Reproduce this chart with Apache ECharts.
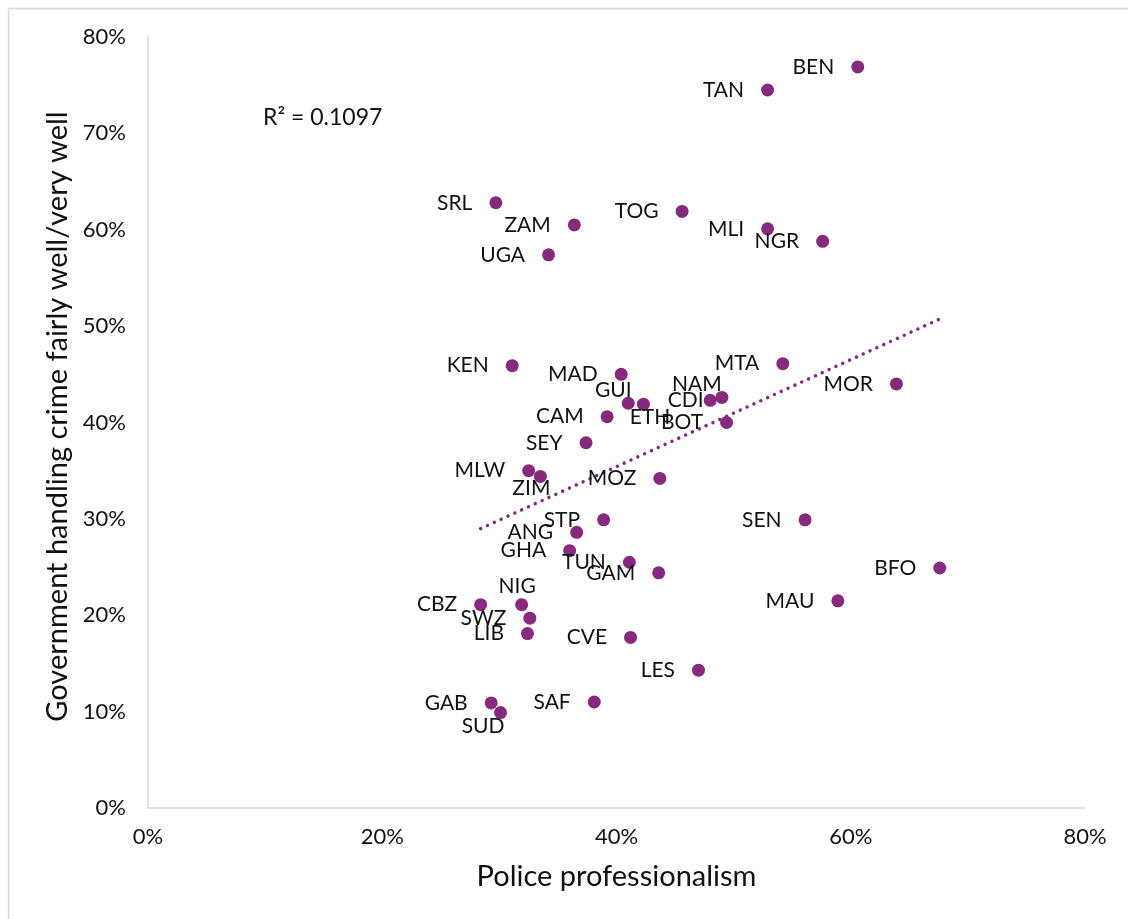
<!DOCTYPE html>
<html>
<head>
<meta charset="utf-8">
<script src="https://cdn.jsdelivr.net/npm/echarts@6/dist/echarts.min.js"></script>
<style>html,body{margin:0;padding:0;background:#fff}#c{width:1128px;height:919px}</style>
</head>
<body>
<div id="c"></div>
<script>
// Country codes
const countries = ['BEN','TAN','SRL','ZAM','TOG','MLI','NGR','UGA','KEN','MAD','MTA','MOR','GUI','ETH','NAM','CDI','BOT','CAM','SEY','MLW','ZIM','MOZ','STP','SEN','ANG','GHA','TUN','GAM','BFO','NIG','CBZ','SWZ','MAU','LIB','CVE','LES','SAF','GAB','SUD'];
// Police professionalism (%)
const policeProf = [60.6,52.9,29.7,36.4,45.6,52.9,57.6,34.2,31.1,40.4,54.2,63.9,41.0,42.3,49.0,48.0,49.4,39.2,37.4,32.5,33.5,43.7,38.9,56.1,36.6,36.0,41.1,43.6,67.6,31.9,28.4,32.6,58.9,32.4,41.2,47.0,38.1,29.3,30.1];
// Government handling crime fairly well/very well (%)
const govCrime = [76.9,74.5,62.8,60.5,61.9,60.1,58.8,57.4,45.9,45.0,46.1,44.0,42.0,41.9,42.6,42.3,40.0,40.6,37.9,35.0,34.4,34.2,29.9,29.9,28.6,26.7,25.5,24.4,24.9,21.1,21.1,19.7,21.5,18.1,17.7,14.3,11.0,10.9,9.9];
const xTicks = [0,20,40,60,80];
const yTicks = [0,10,20,30,40,50,60,70,80];
const r2Text = 'R² = 0.1097';

// label placement overrides: label-centre shift from the marker centre (px)
const SYM = 13;
const labelShift = {
  GUI:[-15,-13],
  NAM:[-25,-13],
  ETH:[6.5,13],
  ZIM:[-9,12],
  NIG:[-4.5,-18],
  SUD:[-17.5,13.5]
};

// linear least-squares trendline from the data
const n = policeProf.length;
const mx = policeProf.reduce((a,b)=>a+b,0)/n;
const my = govCrime.reduce((a,b)=>a+b,0)/n;
let sxy=0,sxx=0;
for(let i=0;i<n;i++){sxy+=(policeProf[i]-mx)*(govCrime[i]-my);sxx+=(policeProf[i]-mx)**2;}
const slope=sxy/sxx, icpt=my-slope*mx;
const xMin=Math.min(...policeProf), xMax=Math.max(...policeProf);
const trend=[[xMin,icpt+slope*xMin],[xMax,icpt+slope*xMax]];

const purple='#862a7d';
const FONT='Lato';
const TXT='#111';
const data = countries.map((c,i)=>{
  const o={value:[policeProf[i],govCrime[i],c]};
  const s=labelShift[c];
  if(s) o.label={position:[SYM/2+s[0],SYM/2+s[1]],align:'center',verticalAlign:'middle'};
  if(c==='CDI') o.label={position:'left',distance:0};
  return o;
});

const chart = echarts.init(document.getElementById('c'));
chart.setOption({
  animation:false,
  textStyle:{fontFamily:FONT},
  grid:{left:148,right:43,top:37,bottom:111},
  xAxis:{type:'value',min:0,max:80,interval:20,
    name:'Police professionalism',nameLocation:'middle',nameGap:54,
    nameTextStyle:{fontSize:29,color:TXT,fontFamily:FONT},
    axisLine:{show:true,lineStyle:{color:'#d9d9d9',width:1.5}},
    axisTick:{show:false},splitLine:{show:false},
    axisLabel:{fontSize:22,color:TXT,margin:18,formatter:v=>v+'%'}},
  yAxis:{type:'value',min:0,max:80,interval:10,
    name:'Government handling crime fairly well/very well',nameLocation:'middle',nameGap:76,
    nameTextStyle:{fontSize:29,color:TXT,fontFamily:FONT,padding:[0,0,0,12]},
    axisLine:{show:true,lineStyle:{color:'#d9d9d9',width:1.5}},
    axisTick:{show:false},splitLine:{show:false},
    axisLabel:{fontSize:22,color:TXT,margin:22,formatter:v=>v+'%'}},
  graphic:[
    {type:'rect',left:6,top:6,shape:{width:1200,height:1000},style:{fill:'none',stroke:'#d9d9d9',lineWidth:1.5},silent:true,z:-10},
    {type:'text',left:263,top:106,style:{text:r2Text,fontSize:23,fill:TXT,fontFamily:FONT}}
  ],
  series:[
    {type:'line',data:trend,symbol:'none',silent:true,
      lineStyle:{color:purple,width:3.5,type:[0.01,7.5],cap:'round'},z:1},
    {type:'scatter',data:data,symbol:'circle',symbolSize:SYM,
      itemStyle:{color:purple,opacity:1},
      label:{show:true,position:'left',distance:17,formatter:p=>p.value[2],
        fontSize:21,color:TXT,fontFamily:FONT},
      labelLayout:{hideOverlap:false},z:2}
  ]
});
</script>
</body>
</html>
